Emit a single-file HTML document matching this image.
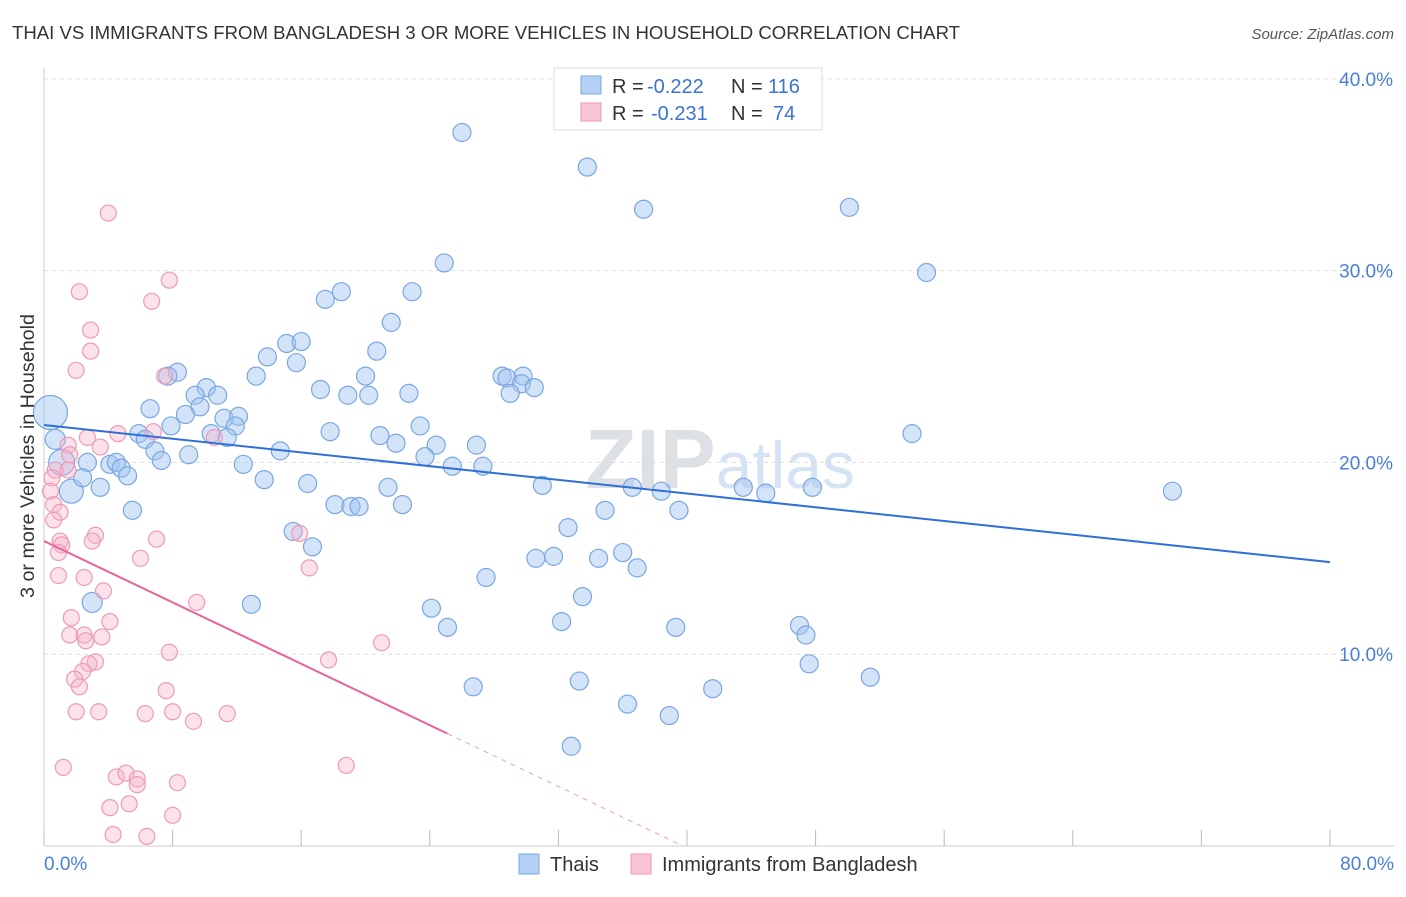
<!DOCTYPE html>
<html><head><meta charset="utf-8"><style>
body{margin:0;background:#fff;font-family:"Liberation Sans",sans-serif;}
svg text{font-family:"Liberation Sans",sans-serif;}
</style></head><body>
<svg id="chart" width="1406" height="892" viewBox="0 0 1406 892" xmlns="http://www.w3.org/2000/svg">
<text x="12" y="39" font-size="18" textLength="948" lengthAdjust="spacingAndGlyphs" fill="#333">THAI VS IMMIGRANTS FROM BANGLADESH 3 OR MORE VEHICLES IN HOUSEHOLD CORRELATION CHART</text>
<text x="1394" y="39" font-size="15" fill="#555" font-style="italic" text-anchor="end">Source: ZipAtlas.com</text>
<text x="720" y="488" font-size="84" fill="#e4e8ee" text-anchor="middle" font-family="Liberation Serif"><tspan font-weight="bold" fill="#dde1e6">ZIP</tspan><tspan font-family="Liberation Sans" fill="#d5e3f5" font-size="66">atlas</tspan></text>
<g id="grid"></g>
<g id="axes"></g>
<g id="pts"></g>
<g id="trend"></g>
<text transform="translate(34,456) rotate(-90)" font-size="19" textLength="284" lengthAdjust="spacingAndGlyphs" fill="#333" text-anchor="middle">3 or more Vehicles in Household</text>
<text x="44" y="870" font-size="19" fill="#4a7fd6">0.0%</text>
<text x="1394" y="870" font-size="19" fill="#4a7fd6" text-anchor="end">80.0%</text>
<g>
<rect x="554" y="68" width="268" height="62" fill="#fff" stroke="#ddd"/>
<rect x="581" y="76" width="20" height="18" fill="#b5d0f5" stroke="#7aa7e0"/>
<rect x="581" y="103" width="20" height="18" fill="#f9c4d5" stroke="#ee9ab8"/>
<g font-size="20">
<text x="612" y="93" fill="#333">R =</text><text x="647" y="93" fill="#3a72d8">-0.222</text>
<text x="731" y="93" fill="#333">N =</text><text x="768" y="93" fill="#3a72d8">116</text></g>
<g font-size="20">
<text x="612" y="120" fill="#333">R =</text><text x="651" y="120" fill="#3a72d8">-0.231</text>
<text x="731" y="120" fill="#333">N =</text><text x="773" y="120" fill="#3a72d8">74</text></g>
</g>
<g>
<rect x="519" y="854" width="20" height="20" fill="#b5d0f5" stroke="#7aa7e0"/>
<text x="550" y="871" font-size="20" fill="#333">Thais</text>
<rect x="631" y="854" width="20" height="20" fill="#f9c4d5" stroke="#ee9ab8"/>
<text x="662" y="871" font-size="20" fill="#333">Immigrants from Bangladesh</text>
</g>
</svg>
<script>
const yTicks=[10,20,30,40];
const yTickLabels=["10.0%","20.0%","30.0%","40.0%"];
const xTicks=[0,8,16,24,32,40,48,56,64,72,80];
const thaiX=[26.0,33.8,37.3,50.1,54.9,24.9,22.9,18.5,17.5,21.6,15.1,16.0,13.9,15.7,20.7,8.3,7.7,13.2,20.0,28.5,29.8,28.8,29.7,30.5,29.0,17.2,18.9,20.2,22.7,10.1,9.4,10.8,9.7,6.6,8.8,11.2,12.1,11.9,7.9,23.4,17.8,10.4,11.4,20.9,21.9,24.4,26.9,5.9,6.3,6.9,9.0,14.7,23.7,25.4,27.3,7.3,12.4,54.0,13.7,16.4,21.4,31.0,36.6,38.4,43.5,44.9,47.8,70.2,18.1,19.1,19.6,22.3,34.9,39.5,5.5,32.6,15.5,16.7,30.6,31.7,34.5,36.0,36.9,27.5,33.5,12.9,24.1,25.1,32.2,39.3,47.0,47.4,47.6,51.4,26.7,33.3,41.6,36.3,38.9,32.8,3.0,0.4,1.1,1.7,2.7,2.4,3.5,4.1,4.5,4.8,5.2,0.7];
const thaiY=[37.2,35.4,33.2,33.3,29.9,30.4,28.9,28.9,28.5,27.3,26.2,26.3,25.5,25.2,25.8,24.7,24.5,24.5,24.5,24.5,24.5,24.4,24.1,23.9,23.6,23.8,23.5,23.5,23.6,23.9,23.5,23.5,22.9,22.8,22.5,22.3,22.4,21.9,21.9,21.9,21.6,21.5,21.3,21.4,21.0,20.9,20.9,21.5,21.2,20.6,20.4,20.6,20.3,19.8,19.8,20.1,19.9,21.5,19.1,18.9,18.7,18.8,18.7,18.5,18.7,18.4,18.7,18.5,17.8,17.7,17.7,17.8,17.5,17.5,17.5,16.6,16.4,15.6,15.0,15.1,15.0,15.3,14.5,14.0,13.0,12.6,12.4,11.4,11.7,11.4,11.5,11.0,9.5,8.8,8.3,8.6,8.2,7.4,6.8,5.2,12.7,22.6,20.0,18.5,20.0,19.2,18.7,19.9,20.0,19.7,19.3,21.2];
const thaiR=[9,9,9,9,9,9,9,9,9,9,9,9,9,9,9,9,9,9,9,9,9,9,9,9,9,9,9,9,9,9,9,9,9,9,9,9,9,9,9,9,9,9,9,9,9,9,9,9,9,9,9,9,9,9,9,9,9,9,9,9,9,9,9,9,9,9,9,9,9,9,9,9,9,9,9,9,9,9,9,9,9,9,9,9,9,9,9,9,9,9,9,9,9,9,9,9,9,9,9,9,10,17,13,12,9,9,9,9,9,9,9,10];
const bdX=[4.0,7.8,2.2,6.7,2.9,2.9,2.0,7.5,4.6,2.7,6.8,10.6,1.5,3.5,1.6,0.7,0.5,0.4,0.6,1.0,0.6,3.2,3.0,1.0,1.1,7.0,15.9,0.9,6.0,16.5,0.9,2.5,3.7,9.5,1.7,4.1,1.6,2.5,2.6,3.6,21.0,7.8,3.2,2.8,17.7,2.4,1.9,2.2,7.6,2.0,3.4,6.3,8.0,9.3,11.4,1.2,18.8,4.5,5.1,5.8,5.8,8.3,4.1,5.3,8.0,4.3,6.4,1.5];
const bdY=[33.0,29.5,28.9,28.4,26.9,25.8,24.8,24.5,21.5,21.3,21.6,21.3,20.9,20.8,20.4,19.6,19.2,18.5,17.8,17.4,17.0,16.2,15.9,15.9,15.7,16.0,16.3,15.3,15.0,14.5,14.1,14.0,13.3,12.7,11.9,11.7,11.0,11.0,10.7,10.9,10.6,10.1,9.6,9.5,9.7,9.1,8.7,8.3,8.1,7.0,7.0,6.9,7.0,6.5,6.9,4.1,4.2,3.6,3.8,3.5,3.2,3.3,2.0,2.2,1.6,0.6,0.5,19.6];
const thaiTrend=[21.95,14.8];
const bdTrend=[15.9,-0.4,25.1];
const NS="http://www.w3.org/2000/svg";
const X=v=>44+v*(1330-44)/80;
const Y=v=>846-v*19.18;
function mk(t,a,p){const e=document.createElementNS(NS,t);for(const k in a)e.setAttribute(k,a[k]);p.appendChild(e);return e;}
const grid=document.getElementById('grid'),axes=document.getElementById('axes'),pts=document.getElementById('pts'),tr=document.getElementById('trend');
yTicks.forEach((t,i)=>{
 const l=mk('line',{x1:44,x2:1394,y1:Y(t),y2:Y(t),stroke:'#ddd','stroke-dasharray':'4,4'},grid);
 
 
 const tx=mk('text',{x:1393,y:Y(t)+7,'font-size':19,fill:'#4a7fd6','text-anchor':'end'},axes);
 tx.textContent=yTickLabels[i];
 
 
});
const ax=mk('line',{x1:44,x2:44,y1:68,y2:846,stroke:'#ccc'},axes);


const bx=mk('line',{x1:44,x2:1394,y1:846,y2:846,stroke:'#ccc'},axes);


xTicks.forEach(t=>{
 const l=mk('line',{x1:X(t),x2:X(t),y1:830,y2:846,stroke:'#bbb'},axes);
 
 
});
thaiX.forEach((v,i)=>{
 const c=mk('circle',{cx:X(v),cy:Y(thaiY[i]),r:thaiR[i],fill:'rgba(160,195,240,0.45)',stroke:'#7aa7e0','stroke-width':1.2},pts);
 
 
});
bdX.forEach((v,i)=>{
 const c=mk('circle',{cx:X(v),cy:Y(bdY[i]),r:8,fill:'rgba(246,180,202,0.4)',stroke:'#ee9ab8','stroke-width':1.2},pts);
 
 
});
const t1=mk('line',{x1:X(0),y1:Y(thaiTrend[0]),x2:X(80),y2:Y(thaiTrend[1]),stroke:'#2f6fd8','stroke-width':2},tr);


const xe=bdTrend[2],x0=-bdTrend[0]/bdTrend[1];
const t2=mk('line',{x1:X(0),y1:Y(bdTrend[0]),x2:X(xe),y2:Y(bdTrend[0]+bdTrend[1]*xe),stroke:'#e8649a','stroke-width':2},tr);


const t3=mk('line',{x1:X(xe),y1:Y(bdTrend[0]+bdTrend[1]*xe),x2:X(x0),y2:Y(0),stroke:'#eea0bd','stroke-width':1,'stroke-dasharray':'5,5'},tr);


</script>
</body></html>
